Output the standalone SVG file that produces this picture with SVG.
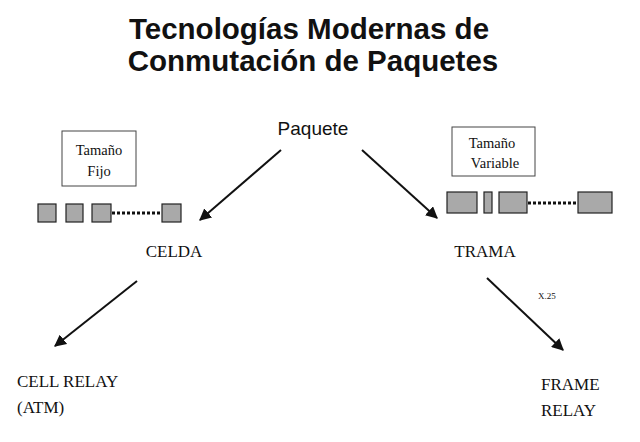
<svg xmlns="http://www.w3.org/2000/svg" width="640" height="442" viewBox="0 0 640 442">
<style>
.t{font-family:"Liberation Serif",serif;fill:#111}
.sq{fill:#a9a9a9;stroke:#222;stroke-width:1.2}
.bx{fill:#fff;stroke:#444;stroke-width:1}
.ar{stroke:#111;stroke-width:2;fill:none;marker-end:url(#a)}
</style>
<defs><marker id="a" viewBox="0 0 10 10" refX="9" refY="5" markerWidth="6" markerHeight="6" orient="auto"><path d="M0,0L10,5L0,10z" fill="#111"/></marker></defs>
<rect width="640" height="442" fill="#fff"/>
<g id="title"><text x="309" y="39" text-anchor="middle" font-family="Liberation Sans,sans-serif" font-weight="bold" font-size="29.5" fill="#111">Tecnologías Modernas de</text>
<text x="313" y="71" text-anchor="middle" font-family="Liberation Sans,sans-serif" font-weight="bold" font-size="29.5" fill="#111">Conmutación de Paquetes</text></g>
<g id="paquete"><text x="313" y="135" text-anchor="middle" font-family="Liberation Sans,sans-serif" font-size="19" fill="#111">Paquete</text></g>
<g id="fijo"><rect class="bx" x="62" y="131" width="74" height="55"/><text class="t" x="99" y="155" text-anchor="middle" font-size="14.5">Tamaño</text><text class="t" x="99" y="176" text-anchor="middle" font-size="14.5">Fijo</text>
<rect class="sq" x="38" y="204" width="18" height="18"/><rect class="sq" x="66" y="204" width="17" height="18"/><rect class="sq" x="92" y="204" width="19" height="18"/><rect class="sq" x="162" y="204" width="19" height="18"/>
<line x1="112" y1="213" x2="161" y2="213" stroke="#111" stroke-width="3" stroke-dasharray="3,2"/></g>
<g id="variable"><rect class="bx" x="452" y="127" width="83" height="49"/><text class="t" x="492" y="148" text-anchor="middle" font-size="14.5">Tamaño</text><text class="t" x="495" y="168" text-anchor="middle" font-size="14.5">Variable</text>
<rect class="sq" x="447" y="192" width="30" height="21"/><rect class="sq" x="484" y="192" width="8" height="21"/><rect class="sq" x="499" y="192" width="28" height="21"/><rect class="sq" x="578" y="192" width="34" height="21"/>
<line x1="528" y1="203" x2="577" y2="203" stroke="#111" stroke-width="3" stroke-dasharray="3,2"/></g>
<g id="celda"><text class="t" x="174" y="257" text-anchor="middle" font-size="17">CELDA</text></g>
<g id="trama"><text class="t" x="485" y="257" text-anchor="middle" font-size="17">TRAMA</text></g>
<g id="cell"><text class="t" x="17" y="387" font-size="17">CELL RELAY</text><text class="t" x="17" y="413" font-size="17">(ATM)</text></g>
<g id="frame"><text class="t" x="541" y="390" font-size="17">FRAME</text><text class="t" x="541" y="416" font-size="17">RELAY</text></g>
<g id="connectors">
<line class="ar" x1="281" y1="150" x2="200" y2="220"/>
<line class="ar" x1="362" y1="150" x2="437" y2="218"/>
<line class="ar" x1="137" y1="281" x2="55" y2="346"/>
<line class="ar" x1="487" y1="278" x2="563" y2="350"/>
<text class="t" x="538" y="299" font-size="9">X.25</text>
</g>
</svg>
